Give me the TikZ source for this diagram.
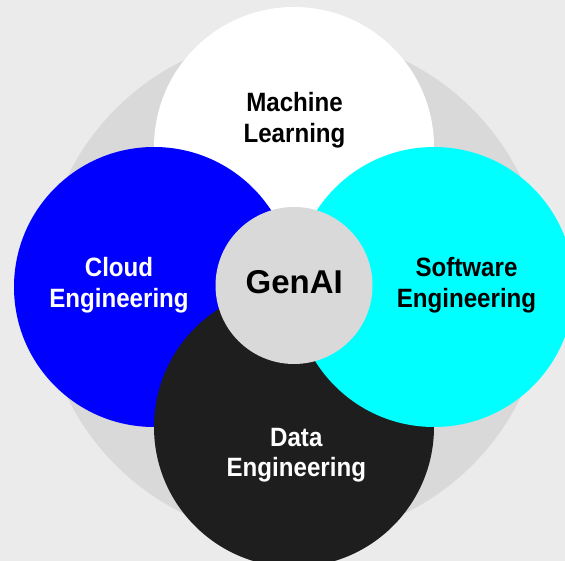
\documentclass[tikz,border=0pt]{standalone}
\usepackage{fontspec}
\setmainfont{Liberation Sans}
\newfontfamily\lblfont[FakeStretch=0.91]{Liberation Sans}
\definecolor{bgc}{HTML}{EBEBEB}
\definecolor{ringc}{HTML}{D9D9D9}
\definecolor{bluec}{HTML}{0000FF}
\definecolor{cyanc}{HTML}{00FFFF}
\definecolor{darkc}{HTML}{1E1E1E}
\definecolor{corec}{HTML}{D9D9D9}
\begin{document}
\begin{tikzpicture}[x=1pt,y=-1pt,
  disc/.style={circle,inner sep=0pt,minimum size=280pt,draw=none},
  lbl/.style={align=center,inner sep=0pt,anchor=base,font=\lblfont\bfseries\fontsize{26.5}{30.5}\selectfont}]
\useasboundingbox (0,0) rectangle (565,561);
\fill[bgc] (0,0) rectangle (565,561);
\node[circle,inner sep=0pt,minimum size=504pt,fill=ringc] (ring) at (294,287) {};
\node[disc,fill=white] (ml) at (294,147) {};
\node[disc,fill=bluec] (cloud) at (154,287) {};
\node[disc,fill=darkc] (data) at (294,427) {};
\node[disc,fill=cyanc] (soft) at (434,287) {};
\node[circle,inner sep=0pt,minimum size=157pt,fill=corec] (core) at (294,285.5) {};
\node[lbl,text=black] (tml) at (294.5,142.3) {Machine\\Learning};
\node[lbl,text=white] (tcloud) at (119,307.3) {Cloud\\Engineering};
\node[lbl,text=black] (tsoft) at (466.5,307.3) {Software\\Engineering};
\node[lbl,text=white] (tdata) at (296.3,476.7) {Data\\Engineering};
\node[anchor=base,inner sep=0pt,font=\bfseries\fontsize{33}{40}\selectfont] (tcore) at (294.2,293.3) {GenAI};
\end{tikzpicture}
\end{document}
